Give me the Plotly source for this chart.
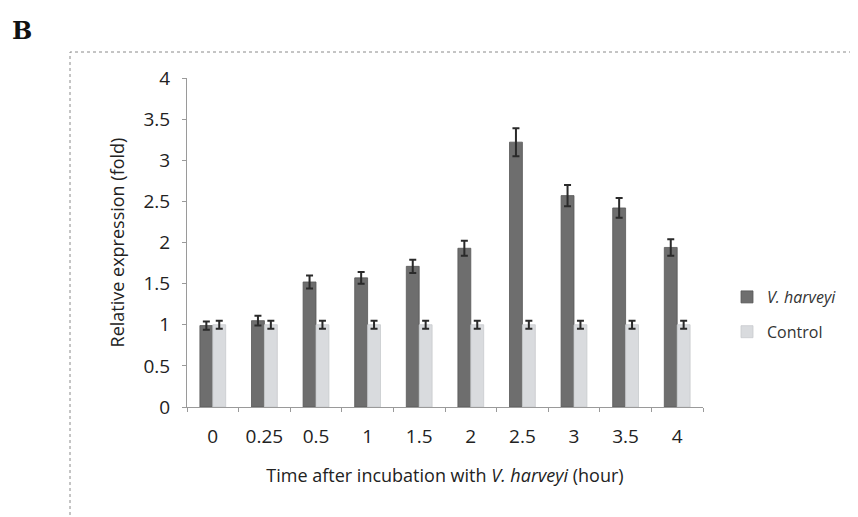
import plotly.graph_objects as go

categories = ["0", "0.25", "0.5", "1", "1.5", "2", "2.5", "3", "3.5", "4"]
vh_values = [0.99, 1.05, 1.52, 1.57, 1.71, 1.93, 3.22, 2.57, 2.42, 1.94]
vh_errors = [0.05, 0.06, 0.08, 0.07, 0.08, 0.09, 0.17, 0.13, 0.12, 0.10]
ctrl_values = [1.0, 1.0, 1.0, 1.0, 1.0, 1.0, 1.0, 1.0, 1.0, 1.0]
ctrl_errors = [0.05, 0.05, 0.05, 0.05, 0.05, 0.05, 0.05, 0.05, 0.05, 0.05]
y_ticks = [0, 0.5, 1, 1.5, 2, 2.5, 3, 3.5, 4]
y_tick_labels = ["0", "0.5", "1", "1.5", "2", "2.5", "3", "3.5", "4"]

FONT = "Open Sans"
OFF = 8  # default page body margin
W, H = 858 - OFF, 517 - OFF
L, R, T, B = 187 - OFF, 858 - 703, 78 - OFF, 517 - 407
pw, ph = W - L - R, H - T - B

def px_x(p):
    return (p - OFF - L) / pw

def px_y(p):
    return (H - B - (p - OFF)) / ph

fig = go.Figure()
fig.add_trace(go.Bar(
    x=categories, y=vh_values, name="<i>V. harveyi</i>", legendgroup="vh",
    marker=dict(color="#6e6e6e", line=dict(color="#585858", width=0.8)),
    error_y=dict(type="data", array=vh_errors, color="#2a2a2a", thickness=2, width=3.5),
))
fig.add_trace(go.Bar(
    x=categories, y=ctrl_values, name="Control", legendgroup="ctrl",
    marker=dict(color="#d9dbde", line=dict(color="#c8cacd", width=0.8)),
    error_y=dict(type="data", array=ctrl_errors, color="#2a2a2a", thickness=2, width=3.5),
))

fig.update_layout(
    width=W, height=H,
    margin=dict(l=L, r=R, t=T, b=B, autoexpand=False),
    paper_bgcolor="white", plot_bgcolor="white",
    barmode="group", bargap=0.5, bargroupgap=0.0,
    font=dict(family=FONT, color="#222222"),
    showlegend=True,
    legend=dict(x=px_x(727), y=px_y(280), xanchor="left", yanchor="top",
                traceorder="grouped",
                font=dict(family=FONT, size=16, color="#333333"),
                itemwidth=30, tracegroupgap=11, bgcolor="rgba(0,0,0,0)"),
    xaxis=dict(
        type="category", showgrid=False, showline=True, automargin=False,
        linecolor="#9a9a9a", linewidth=1,
        ticks="outside", ticklen=4, tickcolor="#9a9a9a",
        tickson="boundaries", ticklabelstandoff=12,
        tickfont=dict(family=FONT, size=19, color="#222222"),
        title=dict(text="Time after incubation with <i>V. harveyi</i> (hour)",
                   font=dict(family=FONT, size=18, color="#222222"), standoff=21),
    ),
    yaxis=dict(
        range=[0, 4], tickvals=y_ticks, ticktext=y_tick_labels, automargin=False,
        showgrid=False, showline=True, linecolor="#9a9a9a", linewidth=1,
        ticks="outside", ticklen=4, tickcolor="#9a9a9a", ticklabelstandoff=8,
        tickfont=dict(family=FONT, size=19, color="#222222"),
        zeroline=False,
        title=dict(text="Relative expression (fold)",
                   font=dict(family=FONT, size=18, color="#222222"), standoff=14),
    ),
)

fig.add_shape(type="rect", xref="paper", yref="paper",
              x0=px_x(70), x1=px_x(880), y0=px_y(540), y1=px_y(52),
              line=dict(color="#8a8a8a", width=1, dash="dot"), layer="below")

fig.add_annotation(text="<b>B</b>", xref="paper", yref="paper",
                   x=px_x(10), y=px_y(14), xanchor="left", yanchor="top",
                   showarrow=False,
                   font=dict(family="DejaVu Serif", size=24, color="#111111"))

fig.write_html("out.html")
